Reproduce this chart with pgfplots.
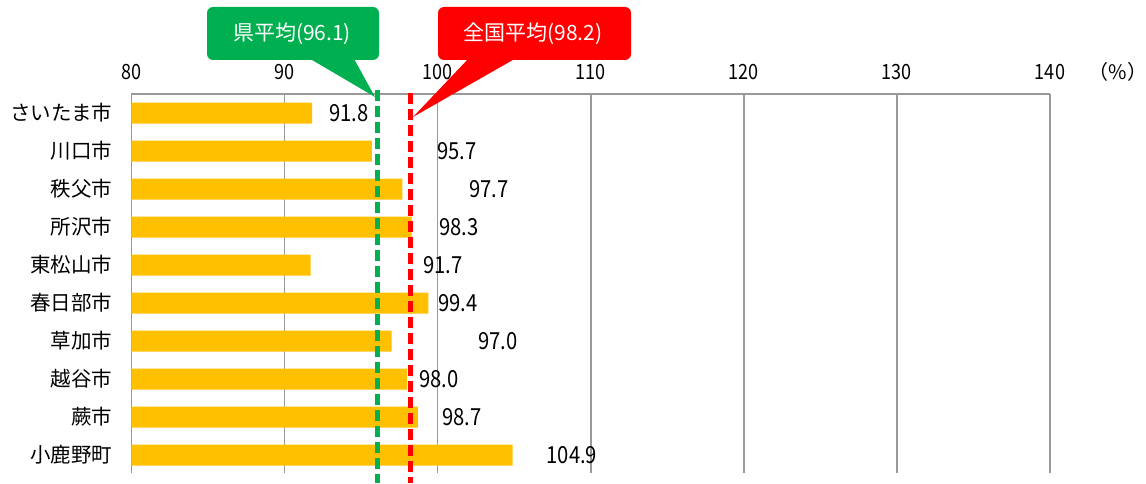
\documentclass[border=0pt]{standalone}
\usepackage{fontspec}
\setmainfont{Noto Sans CJK JP}
\newfontfamily\numfont[FakeStretch=0.86]{Noto Sans CJK JP}
\usepackage{pgfplots}
\pgfplotsset{compat=1.18}
\usepackage{pgfplotstable}

\definecolor{barc}{HTML}{FFC000}
\definecolor{kengreen}{HTML}{00B050}
\definecolor{zenred}{HTML}{FF0000}
\definecolor{gridc}{HTML}{999999}

% values by row (0 = top)
\pgfplotstableread{
y  val
0  91.8
1  95.7
2  97.7
3  98.3
4  91.7
5  99.4
6  97.0
7  98.0
8  98.7
9  104.9
}\bars

% where each value label sits (as drawn in the original)
\pgfplotstableread{
x       y  lab
94.21   0  91.8
101.26  1  95.7
103.35  2  97.7
101.39  3  98.3
100.35  4  91.7
101.33  5  99.4
103.94  6  97.0
100.08  7  98.0
101.59  8  98.7
108.77  9  104.9
}\labels

\pgfplotsset{base/.style={
    scale only axis, width=918.5pt, height=379pt,
    xmin=80, xmax=140, ymin=-0.5, ymax=9.47, y dir=reverse,
}}

\begin{document}
\begin{tikzpicture}
\path[use as bounding box] (-131.5pt,-10pt) rectangle (1014.5pt,473pt);

\begin{axis}[base,
    axis x line*=top, axis y line*=left,
    axis line style={gridc, line width=1.6pt},
    xmajorgrids, grid style={gridc, line width=1.6pt},
    xtick={80,90,...,140},
    ytick={0,...,9},
    yticklabels={さいたま市,川口市,秩父市,所沢市,東松山市,春日部市,草加市,越谷市,蕨市,小鹿野町},
    major tick length=0pt,
    yticklabel style={font=\fontsize{20.5}{24}\selectfont, text=black, inner sep=0pt, xshift=-19pt},
    xticklabel style={font=\numfont\fontsize{21}{24}\selectfont, text=black, inner sep=0pt, yshift=14pt,
        /pgf/number format/assume math mode=true},
]
\addplot[xbar, bar width=21pt, fill=barc, draw=none] table[x=val, y=y] {\bars};
\end{axis}

\begin{axis}[base, hide axis, clip=false]
\addplot[kengreen, line width=5pt, dash pattern=on 11pt off 5pt] coordinates {(96.1,-0.6) (96.1,9.74)};
\addplot[zenred, line width=5pt, dash pattern=on 11pt off 5pt] coordinates {(98.2,-0.52) (98.2,9.74)};
\addplot[only marks, mark=none, point meta=explicit symbolic,
    nodes near coords, nodes near coords align={center},
    every node near coord/.style={font=\numfont\fontsize{23.5}{26}\selectfont, text=black, anchor=center}]
    table[x=x, y=y, meta=lab] {\labels};
\end{axis}

% callouts and unit, in pixel positions of the original
\begin{scope}[x=1pt, y=-1pt, shift={(-131.5pt,473pt)}]
\fill[kengreen] (307,57) -- (375,97) -- (353,57) -- cycle;
\fill[kengreen, rounded corners=6pt] (207,7) rectangle (379,60);
\node[text=white, font=\fontsize{21}{24}\selectfont] at (292,34) {県平均(96.1)};
\fill[zenred] (470,57) -- (413,117) -- (518,57) -- cycle;
\fill[zenred, rounded corners=6pt] (438,7) rectangle (631,60);
\node[text=white, font=\fontsize{21}{24}\selectfont] at (533,34) {全国平均(98.2)};
\node[font=\fontsize{20}{23}\selectfont] at (1118,72) {（\%）};
\end{scope}
\end{tikzpicture}
\end{document}
